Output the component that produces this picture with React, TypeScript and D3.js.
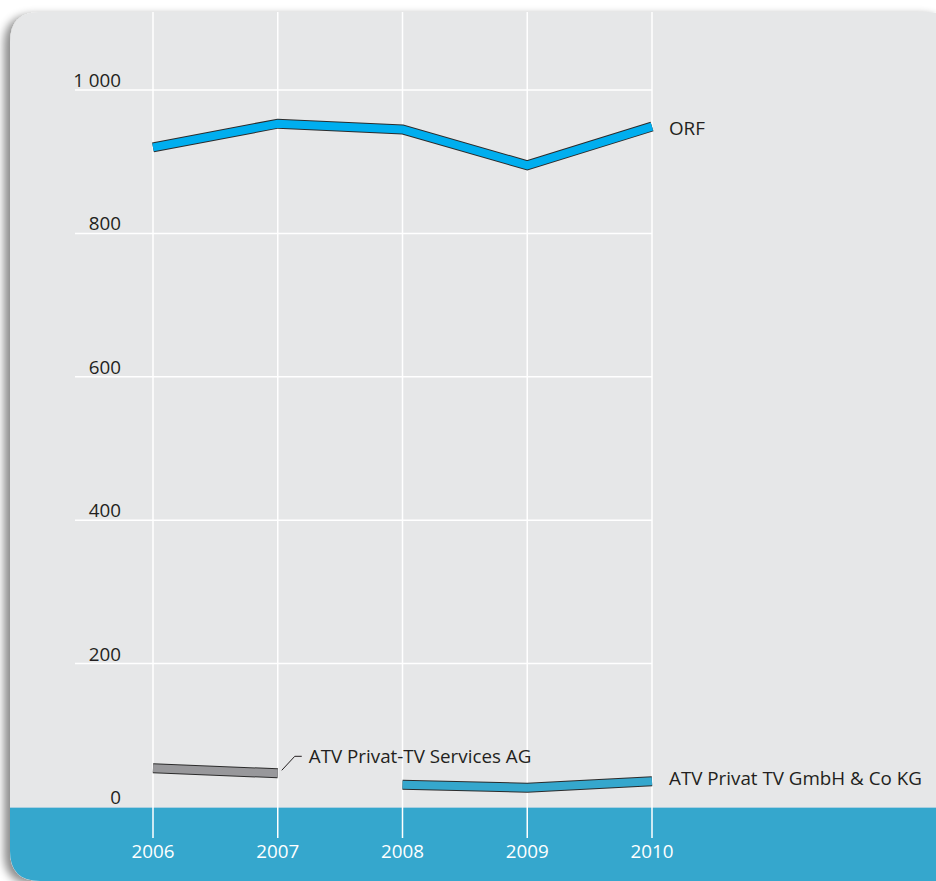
import React from "react";
import * as d3 from "d3";

const years = [2006, 2007, 2008, 2009, 2010];
const yTicks = [0, 200, 400, 600, 800, 1000];
const orfYears = [2006, 2007, 2008, 2009, 2010];
const orfValues = [920, 953, 945, 895, 949];
const atvServicesYears = [2006, 2007];
const atvServicesValues = [54, 47];
const atvGmbhYears = [2008, 2009, 2010];
const atvGmbhValues = [31, 27, 36];

const W = 936;
const H = 881;
const FONT = "'Open Sans', 'Noto Sans', sans-serif";
const FS = 18.8;

export default function App() {
  const x = d3.scalePoint<number>().domain(years).range([153, 652]);
  const y = d3.scaleLinear().domain([0, 1000]).range([807, 90]);
  const line = d3
    .line<[number, number]>()
    .x((d) => x(d[0]) as number)
    .y((d) => y(d[1]));
  const zip = (a: number[], b: number[]) => a.map((v, i) => [v, b[i]] as [number, number]);
  const series = [
    { pts: zip(orfYears, orfValues), color: "#00aeef" },
    { pts: zip(atvServicesYears, atvServicesValues), color: "#98989b" },
    { pts: zip(atvGmbhYears, atvGmbhValues), color: "#35a7cd" },
  ];
  const lastOrf = orfValues[orfValues.length - 1];
  const lastGmbh = atvGmbhValues[atvGmbhValues.length - 1];
  const svcEndX = x(2007) as number;
  const svcEndY = y(atvServicesValues[1]);

  const L = 10, T = 12, R = 956, B = 881, r = 30;
  const panelD = `M${L + r},${T} H${R - r} Q${R},${T} ${R},${T + r} V${B} H${L + r} ` +
    `Q${L},${B} ${L},${B - r} V${T + r} Q${L},${T} ${L + r},${T} Z`;

  return (
    <svg width={W} height={H} style={{ position: "absolute", left: 0, top: 0 }} fontFamily={FONT}>
      <defs>
        <filter id="sh" x="-10%" y="-10%" width="120%" height="120%">
          <feDropShadow dx={-6} dy={3} stdDeviation={4} floodColor="#000" floodOpacity={0.45} />
        </filter>
        <clipPath id="panel">
          <path d={panelD} />
        </clipPath>
      </defs>
      <rect width={W} height={H} fill="#fff" />
      <path d={panelD} fill="#e6e7e8" filter="url(#sh)" />
      <g clipPath="url(#panel)">
        <rect x={0} y={y(0)} width={W + 50} height={200} fill="#35a7cd" />
        <line x1={0} x2={W + 50} y1={y(0) + 0.5} y2={y(0) + 0.5} stroke="#a9cfe0" strokeWidth={1} />
      </g>
      {yTicks
        .filter((t) => t > 0)
        .map((t) => (
          <line key={t} x1={75} x2={652} y1={y(t)} y2={y(t)} stroke="#fff" strokeWidth={1.5} />
        ))}
      {years.map((yr) => (
        <line key={yr} x1={x(yr)} x2={x(yr)} y1={12} y2={838} stroke="#fff" strokeWidth={1.5} />
      ))}
      {yTicks.map((t) => (
        <text key={t} x={121} y={y(t) - 3} textAnchor="end" fontSize={FS} fill="#231f20">
          {t === 1000 ? "1 000" : String(t)}
        </text>
      ))}
      {years.map((yr) => (
        <text key={yr} x={x(yr)} y={858} textAnchor="middle" fontSize={FS} fill="#fff">
          {yr}
        </text>
      ))}
      {series.map((s, i) => (
        <g key={i}>
          <path d={line(s.pts) || ""} fill="none" stroke="#2b2b2b" strokeWidth={10} strokeLinejoin="miter" />
          <path d={line(s.pts) || ""} fill="none" stroke={s.color} strokeWidth={8} strokeLinejoin="miter" />
        </g>
      ))}
      <text x={669} y={y(lastOrf) + 8} fontSize={FS} fill="#231f20">ORF</text>
      <polyline
        points={`${svcEndX + 4},${svcEndY - 3} ${svcEndX + 17},${svcEndY - 17} ${svcEndX + 24},${svcEndY - 17}`}
        fill="none"
        stroke="#231f20"
        strokeWidth={1}
      />
      <text x={svcEndX + 31} y={svcEndY - 10} fontSize={FS} fill="#231f20">ATV Privat-TV Services AG</text>
      <text x={669} y={y(lastGmbh) + 4} fontSize={FS} fill="#231f20">ATV Privat TV GmbH &amp; Co KG</text>
    </svg>
  );
}
